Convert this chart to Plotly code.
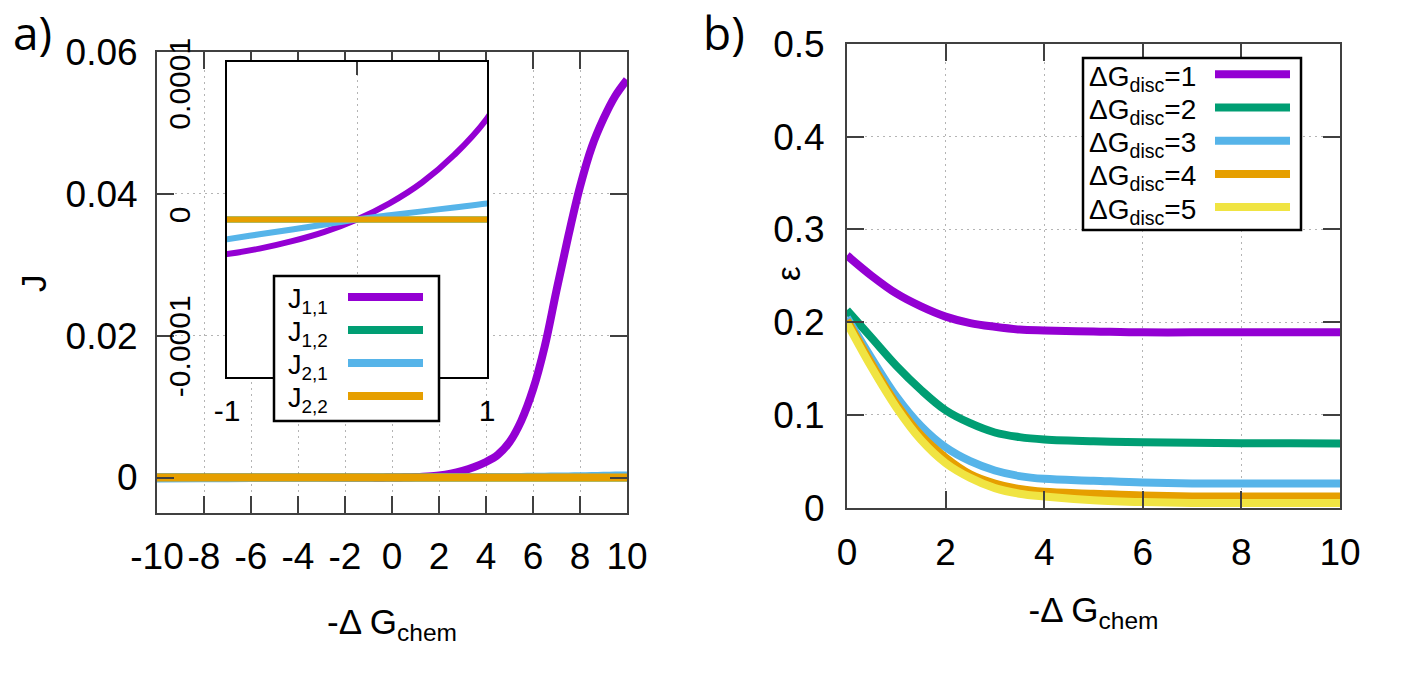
import plotly.graph_objects as go

# ------------------------- data -------------------------
# panel a : J vs -dG_chem
x_a = [-10, -8, -6, -4, -2, -1, -0.75, -0.5, -0.25, 0, 0.25, 0.5, 0.75, 1,
       1.5, 2, 2.5, 3, 3.5, 4, 4.5, 5, 5.5, 6, 6.5, 7, 7.5, 8, 8.5, 9, 9.5, 10]
J11 = [-0.00004, -0.00004, -0.00004, -0.0000395, -0.000035, -0.0000263, -0.0000222,
       -0.0000165, -0.0000094, 0.0, 0.0000123, 0.0000282, 0.0000494, 0.000077,
       0.00016, 0.0003, 0.00056, 0.00096, 0.0015, 0.0022, 0.0032, 0.005, 0.008,
       0.0124, 0.0185, 0.0264, 0.034, 0.041, 0.0466, 0.0506, 0.0538, 0.0561]
J12 = [0.0, 0.0, 0.0, 0.0, 0.0, 0.0, 0.0, 0.0, 0.0, 0.0, 0.0, 0.0, 0.0, 0.0,
       0.0, 0.0, 0.0, 0.0, 0.0, 0.0, 0.0, 0.0, 0.0, 0.0, 0.0, 0.0, 0.0, 0.0,
       0.0, 0.0, 0.0, 0.0]
J21 = [-0.00012, -0.0001, -0.00008, -0.00006, -0.00003, -0.000015, -0.0000113,
       -0.0000076, -0.0000038, 0.0, 0.0000032, 0.0000062, 0.0000092, 0.0000122,
       0.00002, 0.000028, 0.000036, 0.000044, 0.000052, 0.00006, 0.00007, 0.00008,
       0.00009, 0.0001, 0.00012, 0.00014, 0.00016, 0.00018, 0.00021, 0.00024,
       0.00027, 0.0003]
J22 = [0.0, 0.0, 0.0, 0.0, 0.0, 0.0, 0.0, 0.0, 0.0, 0.0, 0.0, 0.0, 0.0, 0.0,
       0.0, 0.0, 0.0, 0.0, 0.0, 0.0, 0.0, 0.0, 0.0, 0.0, 0.0, 0.0, 0.0, 0.0,
       0.0, 0.0, 0.0, 0.0]
names_a = ["J<sub>1,1</sub>", "J<sub>1,2</sub>", "J<sub>2,1</sub>", "J<sub>2,2</sub>"]
series_a = [J11, J12, J21, J22]

xticks_a = [-10, -8, -6, -4, -2, 0, 2, 4, 6, 8, 10]
xticktext_a = ["-10", "-8", "-6", "-4", "-2", "0", "2", "4", "6", "8", "10"]
yticks_a = [0, 0.02, 0.04, 0.06]
yticktext_a = ["0", "0.02", "0.04", "0.06"]
xticks_in = [-1, 0, 1]
xticktext_in = ["-1", "0", "1"]
yticks_in = [-0.0001, 0, 0.0001]
yticktext_in = ["-0.0001", "0", "0.0001"]

# panel b : epsilon vs -dG_chem
x_b = [0, 0.5, 1, 1.5, 2, 2.5, 3, 3.5, 4, 5, 6, 7, 8, 9, 10]
eps1 = [0.272, 0.250, 0.231, 0.217, 0.206, 0.199, 0.195, 0.192, 0.191, 0.190, 0.189, 0.189, 0.189, 0.189, 0.189]
eps2 = [0.213, 0.183, 0.153, 0.127, 0.105, 0.091, 0.081, 0.076, 0.0735, 0.0715, 0.0705, 0.070, 0.0695, 0.0693, 0.069]
eps3 = [0.205, 0.161, 0.120, 0.088, 0.065, 0.050, 0.040, 0.034, 0.031, 0.029, 0.027, 0.026, 0.026, 0.026, 0.026]
eps4 = [0.202, 0.155, 0.112, 0.078, 0.054, 0.036, 0.026, 0.020, 0.017, 0.015, 0.013, 0.012, 0.012, 0.012, 0.012]
eps5 = [0.199, 0.151, 0.108, 0.073, 0.048, 0.032, 0.021, 0.015, 0.012, 0.008, 0.006, 0.005, 0.005, 0.005, 0.005]
names_b = ["ΔG<sub>disc</sub>=1", "ΔG<sub>disc</sub>=2", "ΔG<sub>disc</sub>=3",
           "ΔG<sub>disc</sub>=4", "ΔG<sub>disc</sub>=5"]
series_b = [eps1, eps2, eps3, eps4, eps5]

xticks_b = [0, 2, 4, 6, 8, 10]
xticktext_b = ["0", "2", "4", "6", "8", "10"]
yticks_b = [0, 0.1, 0.2, 0.3, 0.4, 0.5]
yticktext_b = ["0", "0.1", "0.2", "0.3", "0.4", "0.5"]

colors = ["#9400D3", "#009E73", "#56B4E9", "#E69F00", "#F0E442"]

# ------------------------- layout helpers -------------------------
W, H = 1401, 698
FONT = "Liberation Sans, Arial, sans-serif"


def fx(p):
    return p / W


def fy(p):
    return 1 - p / H


fig = go.Figure()

for name, ys, col in zip(names_a, series_a, colors):
    fig.add_trace(go.Scatter(x=x_a, y=ys, mode="lines", name=name, showlegend=False,
                             line=dict(color=col, width=8, shape="spline"),
                             xaxis="x", yaxis="y"))
for name, ys, col in zip(names_a, series_a, colors):
    fig.add_trace(go.Scatter(x=x_a, y=ys, mode="lines", name=name, showlegend=False,
                             line=dict(color=col, width=6, shape="spline"),
                             xaxis="x2", yaxis="y2"))
for name, ys, col in zip(names_b, series_b, colors):
    fig.add_trace(go.Scatter(x=x_b, y=ys, mode="lines", name=name, showlegend=False,
                             line=dict(color=col, width=8, shape="spline"),
                             xaxis="x3", yaxis="y3"))

frame = "#404040"
tick_font = dict(family=FONT, size=37, color="black")
common = dict(showline=True, mirror="ticks", linecolor=frame, linewidth=2,
              ticks="inside", ticklen=17, tickcolor=frame, tickwidth=2,
              showgrid=True, gridcolor="#b4b4b4", gridwidth=1, griddash="2px,4px",
              zeroline=False, automargin=False, tickfont=tick_font)
title_font = dict(family=FONT, size=35, color="black")
inset_font = dict(family=FONT, size=30, color="black")

layout = dict(
    width=W, height=H, margin=dict(l=0, r=0, t=0, b=0),
    paper_bgcolor="white", plot_bgcolor="white", showlegend=False,
    xaxis=dict(common, domain=[fx(157), fx(627)], range=[-10, 10], anchor="y",
               tickmode="array", tickvals=xticks_a, ticktext=xticktext_a,
               ticklabelstandoff=10,
               title=dict(text="-Δ G<sub>chem</sub>", font=title_font, standoff=33)),
    yaxis=dict(common, domain=[fy(513), fy(52)], range=[-0.005, 0.06], anchor="x",
               tickmode="array", tickvals=yticks_a, ticktext=yticktext_a,
               ticklabelstandoff=10),
    xaxis2=dict(common, domain=[fx(227), fx(487)], range=[-1, 1], anchor="y2",
                tickmode="array", tickvals=xticks_in, ticktext=xticktext_in,
                ticklen=13, ticklabelstandoff=6, tickfont=inset_font,
                linecolor="black"),
    yaxis2=dict(common, domain=[fy(377), fy(62)], range=[-0.00012, 0.00012], anchor="x2",
                tickmode="array", tickvals=yticks_in, ticktext=yticktext_in,
                ticks="", showgrid=False, tickangle=-90, ticklabelstandoff=23,
                tickfont=inset_font, linecolor="black"),
    xaxis3=dict(common, domain=[fx(847), fx(1340)], range=[0, 10], anchor="y3",
                tickmode="array", tickvals=xticks_b, ticktext=xticktext_b,
                ticklabelstandoff=11,
                title=dict(text="-Δ G<sub>chem</sub>", font=title_font, standoff=25)),
    yaxis3=dict(common, domain=[fy(507.6), fy(44)], range=[0, 0.5], anchor="x3",
                tickmode="array", tickvals=yticks_b, ticktext=yticktext_b,
                ticklabelstandoff=13),
)
fig.update_layout(**layout)

shapes = []
annotations = []

# panel labels and y-axis titles
for lbl, px in (("a)", 12), ("b)", 702)):
    annotations.append(dict(text=lbl, x=fx(px), y=1, xref="paper", yref="paper",
                            xanchor="left", yanchor="top", showarrow=False, borderpad=0,
                            font=dict(family="Open Sans", size=46, color="black")))
annotations.append(dict(text="J", x=fx(33), y=fy(283), xref="paper", yref="paper",
                        xanchor="center", yanchor="middle",
                        textangle=-90, showarrow=False, font=title_font))
annotations.append(dict(text="ε", x=fx(788), y=fy(274), xref="paper", yref="paper",
                        xanchor="center", yanchor="middle",
                        textangle=-90, showarrow=False,
                        font=dict(family=FONT, size=33, color="black")))


# custom key boxes (text left, line sample right, as in the original)
def add_key(box, names, cols, first_y, step, text_x, line_x0, line_x1, size):
    x0, y0, x1, y1 = box
    shapes.append(dict(type="rect", xref="paper", yref="paper", layer="above",
                       x0=fx(x0), x1=fx(x1), y0=fy(y1), y1=fy(y0),
                       fillcolor="white", line=dict(color="black", width=2.5)))
    for i, (nm, c) in enumerate(zip(names, cols)):
        yy = first_y + i * step
        shapes.append(dict(type="line", xref="paper", yref="paper", layer="above",
                           x0=fx(line_x0), x1=fx(line_x1), y0=fy(yy), y1=fy(yy),
                           line=dict(color=c, width=8)))
        annotations.append(dict(text=nm, x=fx(text_x), y=fy(yy + 4), xref="paper",
                                yref="paper", xanchor="left", yanchor="middle",
                                showarrow=False,
                                font=dict(family=FONT, size=size, color="black")))


add_key((274, 276, 439, 421), names_a, colors[:4], 297, 33, 286, 348, 423, 27)
add_key((1083, 58, 1301, 230), names_b, colors, 74.3, 33.2, 1087, 1215, 1290, 28)

fig.update_layout(shapes=shapes, annotations=annotations)
fig.write_html("out.html", config={"displayModeBar": False},
               post_script="document.body.style.margin='0px';"
                           "document.body.style.overflow='hidden';")
